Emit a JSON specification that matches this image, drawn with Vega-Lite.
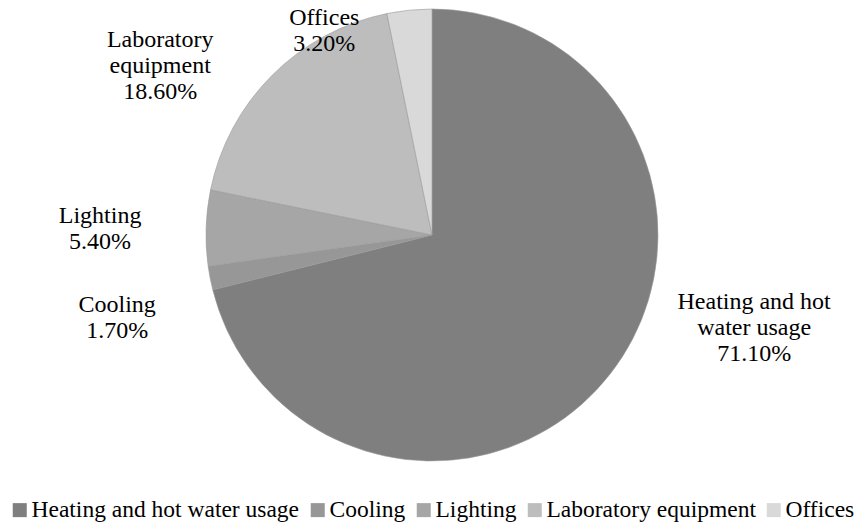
{
  "$schema": "https://vega.github.io/schema/vega-lite/v6.json",
  "width": 864,
  "height": 470,
  "padding": 0,
  "background": "white",
  "config": {"view": {"stroke": null}, "font": "Liberation Serif"},
  "data": {
    "values": [
      {"category": "Heating and hot water usage", "label": "Heating and hot\nwater usage", "value": 71.1, "rank": 1},
      {"category": "Cooling", "label": "Cooling", "value": 1.7, "rank": 2},
      {"category": "Lighting", "label": "Lighting", "value": 5.4, "rank": 3},
      {"category": "Laboratory equipment", "label": "Laboratory\nequipment", "value": 18.6, "rank": 4},
      {"category": "Offices", "label": "Offices", "value": 3.2, "rank": 5}
    ]
  },
  "encoding": {
    "theta": {"field": "value", "type": "quantitative", "stack": true},
    "order": {"field": "rank", "type": "quantitative", "sort": "ascending"}
  },
  "layer": [
    {
      "mark": {"type": "arc", "outerRadius": 226, "stroke": "#9a9a9a", "strokeWidth": 0.6},
      "encoding": {
        "color": {
          "field": "category",
          "type": "nominal",
          "scale": {
            "domain": ["Heating and hot water usage", "Cooling", "Lighting", "Laboratory equipment", "Offices"],
            "range": ["#7f7f7f", "#979797", "#a6a6a6", "#bdbdbd", "#d9d9d9"]
          },
          "legend": {
            "orient": "bottom",
            "direction": "horizontal",
            "title": null,
            "symbolType": "square",
            "symbolSize": 196,
            "symbolStrokeWidth": 0,
            "labelFont": "Liberation Serif",
            "labelFontSize": 23.5,
            "labelColor": "black",
            "labelLimit": 500,
            "labelOffset": 0,
            "columnPadding": 6,
            "offset": 20,
            "padding": 8
          }
        }
      }
    },
    {
      "transform": [
        {"calculate": "datum.label + '\\n' + format(datum.value, '.2f') + '%'", "as": "txt"}
      ],
      "mark": {
        "type": "text",
        "radius": 226,
        "fontSize": 24,
        "font": "Liberation Serif",
        "lineBreak": "\n",
        "lineHeight": 26,
        "align": "center",
        "baseline": "middle",
        "color": "black",
        "dx": {"expr": "datum.rank == 1 ? 144 : datum.rank == 2 ? -93 : datum.rank == 3 ? -106 : datum.rank == 4 ? -112 : -85"},
        "dy": {"expr": "datum.rank == 1 ? -72 : datum.rank == 2 ? 27 : datum.rank == 3 ? -12 : datum.rank == 4 ? -35 : 8"}
      },
      "encoding": {
        "text": {"field": "txt", "type": "nominal"}
      }
    }
  ]
}
